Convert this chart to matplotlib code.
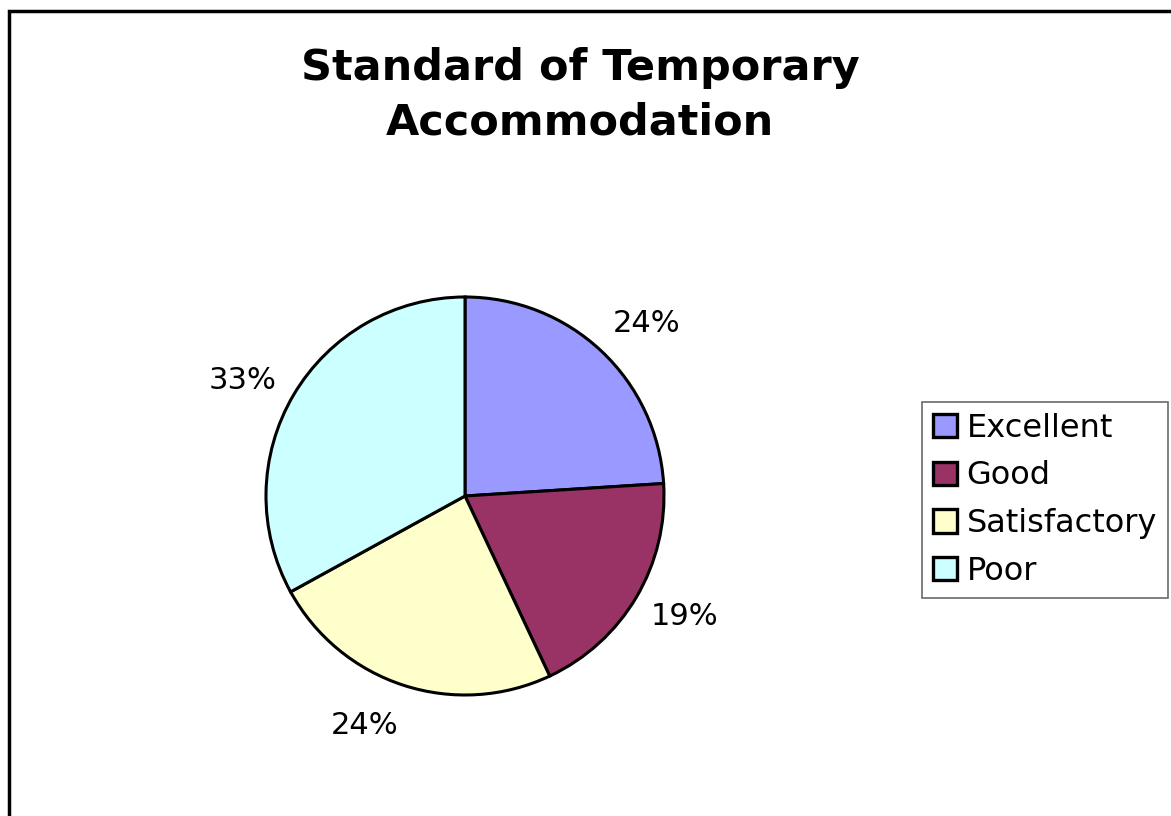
import matplotlib
matplotlib.use("Agg")
import matplotlib.pyplot as plt
import numpy as np
from matplotlib.patches import Rectangle

categories = ["Excellent", "Good", "Satisfactory", "Poor"]
values = [24, 19, 24, 33]
colors = ["#9999FF", "#993366", "#FFFFCC", "#CCFFFF"]
title = "Standard of Temporary\nAccommodation"

W, H = 1171, 816
fig = plt.figure(figsize=(W / 100, H / 100), dpi=100)
fig.patch.set_facecolor("white")

# outer border (top and left visible)
fig.patches.append(Rectangle((8.8 / W, -0.1), 1.2, (H - 11) / H + 0.1,
                             transform=fig.transFigure, fill=False,
                             edgecolor="black", linewidth=2.5))

cx, cy, r = 465, 496, 199
ax = fig.add_axes([(cx - r) / W, (H - cy - r) / H, 2 * r / W, 2 * r / H])
wedges, texts, autotexts = ax.pie(
    values, colors=colors, startangle=90, counterclock=False,
    autopct=lambda p: f"{p:.0f}%", pctdistance=1.26,
    wedgeprops=dict(edgecolor="black", linewidth=2.2),
    textprops=dict(fontsize=22, color="black"))
ax.set_aspect("equal")
ax.set_xlim(-1, 1)
ax.set_ylim(-1, 1)

# label placement (Excel-style outside labels): angular nudge in degrees
label_nudge = [-3.3, 1.9, -5.6, 3.2]
for w, t, n in zip(wedges, autotexts, label_nudge):
    ang = np.deg2rad((w.theta1 + w.theta2) / 2 + n)
    t.set_position((1.26 * np.cos(ang), 1.26 * np.sin(ang)))

fig.text(580 / W, 1 - 95 / H, title, ha="center", va="center",
         fontsize=31, fontweight="bold", linespacing=1.39)

leg = fig.legend(wedges, categories, loc="upper left",
                 bbox_to_anchor=(922 / W, 1 - 402 / H),
                 fontsize=23, frameon=True, fancybox=False,
                 edgecolor="#444444", handlelength=0.74, handleheight=0.74,
                 handletextpad=0.32, borderpad=0.34, labelspacing=0.52,
                 borderaxespad=0)
leg.get_frame().set_linewidth(1.2)
for h in leg.legend_handles:
    h.set_linewidth(2.4)

fig.savefig("out.png", dpi=100, facecolor="white")
